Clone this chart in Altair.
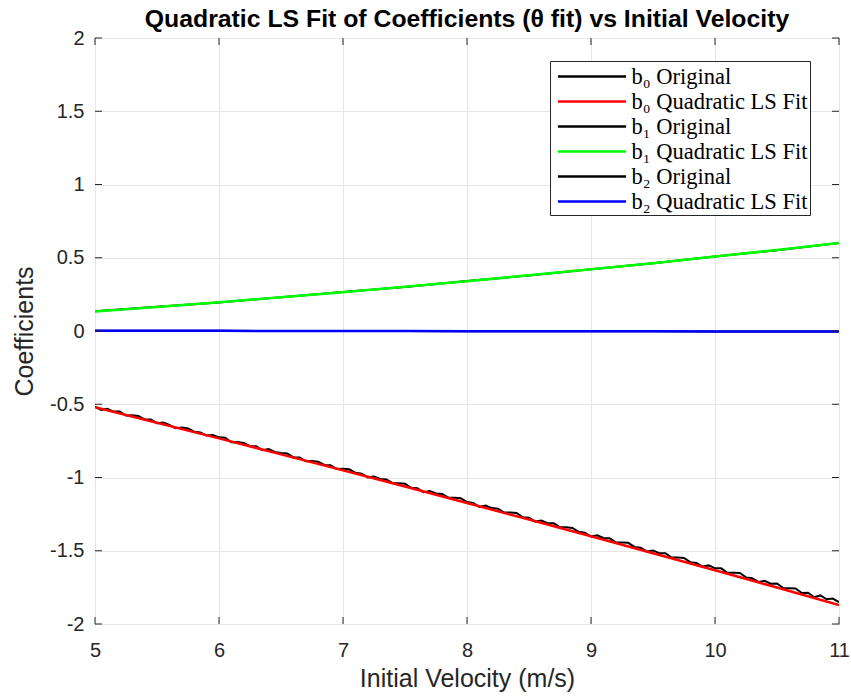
import altair as alt
import pandas as pd

# ---------------- data ----------------
x_fine = [round(5 + 0.05 * i, 2) for i in range(121)]
b0_original = [
    -0.516, -0.539, -0.531, -0.550, -0.550, -0.577, -0.575, -0.580, -0.604, -0.604,
    -0.629, -0.624, -0.641, -0.664, -0.659, -0.665, -0.687, -0.693, -0.714, -0.710,
    -0.726, -0.728, -0.759, -0.757, -0.764, -0.786, -0.787, -0.814, -0.806, -0.825,
    -0.832, -0.836, -0.863, -0.863, -0.889, -0.888, -0.892, -0.914, -0.916, -0.942,
    -0.940, -0.944, -0.968, -0.974, -0.999, -0.993, -1.010, -1.013, -1.039, -1.039,
    -1.043, -1.070, -1.074, -1.101, -1.092, -1.109, -1.112, -1.138, -1.139, -1.142,
    -1.168, -1.174, -1.201, -1.192, -1.209, -1.213, -1.239, -1.239, -1.242, -1.271,
    -1.275, -1.301, -1.293, -1.312, -1.313, -1.340, -1.340, -1.344, -1.371, -1.377,
    -1.403, -1.395, -1.413, -1.415, -1.442, -1.443, -1.446, -1.474, -1.480, -1.505,
    -1.498, -1.517, -1.517, -1.546, -1.546, -1.549, -1.578, -1.583, -1.608, -1.600,
    -1.620, -1.620, -1.650, -1.650, -1.652, -1.682, -1.688, -1.713, -1.705, -1.725,
    -1.724, -1.755, -1.756, -1.757, -1.788, -1.787, -1.817, -1.805, -1.831, -1.826,
    -1.850,
]

x_coarse = [5.0, 5.5, 6.0, 6.5, 7.0, 7.5, 8.0, 8.5, 9.0, 9.5, 10.0, 10.5, 11.0]
b0_fit = [-0.520, -0.626, -0.733, -0.842, -0.951, -1.062, -1.174, -1.287, -1.401,
          -1.517, -1.633, -1.751, -1.870]
b1_original = [0.134, 0.165, 0.195, 0.231, 0.266, 0.301, 0.341, 0.379, 0.422,
               0.462, 0.509, 0.552, 0.601]
b1_fit = [0.133, 0.164, 0.196, 0.230, 0.265, 0.302, 0.340, 0.380, 0.421,
          0.463, 0.508, 0.553, 0.600]
b2_original = [0.002, 0.0016, 0.0009, 0.0006, 0.0001, -0.0004, -0.0011, -0.0014,
               -0.0021, -0.0024, -0.0031, -0.0034, -0.0041]
b2_fit = [0.002, 0.0015, 0.001, 0.0005, 0.0, -0.0005, -0.001, -0.0015,
          -0.002, -0.0025, -0.003, -0.0035, -0.004]

labels = [
    "b₀ Original",
    "b₀ Quadratic LS Fit",
    "b₁ Original",
    "b₁ Quadratic LS Fit",
    "b₂ Original",
    "b₂ Quadratic LS Fit",
]
colors = ["#000000", "#ff0000", "#000000", "#00ff00", "#000000", "#0000ff"]

x_ticks = [5, 6, 7, 8, 9, 10, 11]
y_ticks = [-2, -1.5, -1, -0.5, 0, 0.5, 1, 1.5, 2]

# ---------------- chart ----------------
series_data = [
    (labels[0], x_fine, b0_original, 2.0),
    (labels[1], x_coarse, b0_fit, 2.5),
    (labels[2], x_coarse, b1_original, 2.0),
    (labels[3], x_coarse, b1_fit, 2.5),
    (labels[4], x_coarse, b2_original, 2.0),
    (labels[5], x_coarse, b2_fit, 2.5),
]

W, H = 744, 586
AX = "#262626"
FONT = "Liberation Sans"

xscale = alt.Scale(domain=[5, 11], nice=False, zero=False)
yscale = alt.Scale(domain=[-2, 2], nice=False, zero=False)

xaxis = alt.Axis(values=x_ticks, format="d", grid=True, ticks=False, domain=False,
                 labelFlush=False, title="Initial Velocity (m/s)",
                 labelPadding=16, titlePadding=6)
yaxis = alt.Axis(values=y_ticks, labelExpr="datum.value + ''", grid=True, ticks=False,
                 domain=False, labelFlush=False, title="Coefficients",
                 labelPadding=11, titlePadding=12)

color = alt.Color(
    "series:N",
    scale=alt.Scale(domain=labels, range=colors),
    legend=alt.Legend(
        title=None, orient="none", legendX=455, legendY=23,
        symbolType="M-2.78,0L2.78,0", symbolSize=600, symbolStrokeWidth=2.5,
        symbolOffset=26.5, labelOffset=26,
        labelFont="Liberation Serif", labelFontSize=22.5, labelColor="#000000",
        fillColor="white", strokeColor=AX, padding=2, rowPadding=0,
        labelLimit=500,
    ),
)

layers = []
for name, xs, ys, sw in series_data:
    df = pd.DataFrame({"x": xs, "y": ys, "series": name})
    layers.append(
        alt.Chart(df).mark_line(strokeWidth=sw, clip=True).encode(
            x=alt.X("x:Q", scale=xscale, axis=xaxis),
            y=alt.Y("y:Q", scale=yscale, axis=yaxis),
            color=color,
        )
    )

xt = pd.DataFrame({"x": x_ticks})
yt = pd.DataFrame({"y": y_ticks})
tick_len = 7
tick_layers = [
    alt.Chart(xt).mark_rule(color=AX, strokeWidth=1).encode(
        x=alt.X("x:Q", scale=xscale, axis=xaxis), y=alt.value(H), y2=alt.value(H - tick_len)),
    alt.Chart(xt).mark_rule(color=AX, strokeWidth=1).encode(
        x=alt.X("x:Q", scale=xscale, axis=xaxis), y=alt.value(0), y2=alt.value(tick_len)),
    alt.Chart(yt).mark_rule(color=AX, strokeWidth=1).encode(
        y=alt.Y("y:Q", scale=yscale, axis=yaxis), x=alt.value(0), x2=alt.value(tick_len)),
    alt.Chart(yt).mark_rule(color=AX, strokeWidth=1).encode(
        y=alt.Y("y:Q", scale=yscale, axis=yaxis), x=alt.value(W), x2=alt.value(W - tick_len)),
]

chart = alt.layer(*layers, *tick_layers).properties(
    width=W, height=H,
    background="white",
    title=alt.TitleParams(
        "Quadratic LS Fit of Coefficients (θ fit) vs Initial Velocity",
        font=FONT, fontSize=24.8, fontWeight="bold", color="#000000",
        anchor="middle", offset=10, dy=14,
    ),
    autosize=alt.AutoSizeParams(type="none"),
    padding={"left": 95, "top": 38, "right": 12, "bottom": 76},
).configure_view(
    stroke=AX, strokeWidth=1, fill="white"
).configure_axis(
    labelFont=FONT, labelFontSize=20, labelColor=AX,
    titleFont=FONT, titleFontSize=25, titleColor=AX, titleFontWeight="normal",
    gridColor="#e5e5e5", gridWidth=1,
)

chart.save("out.html", embed_options={"renderer": "svg", "actions": False})
